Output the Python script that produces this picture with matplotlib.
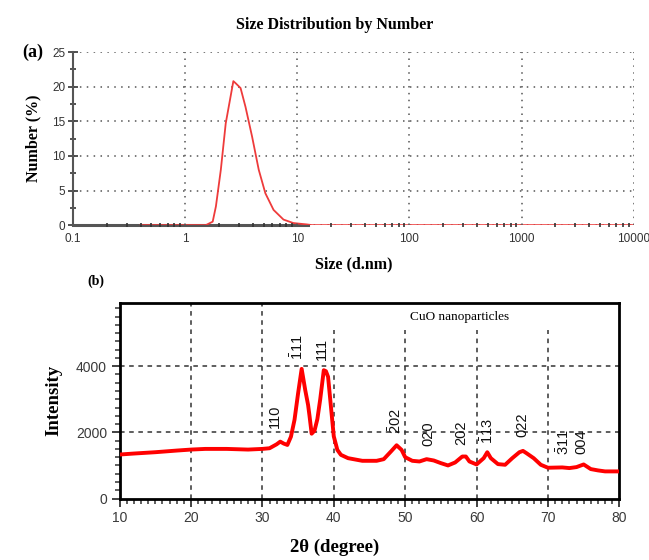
import numpy as np
import matplotlib
matplotlib.use("Agg")
import matplotlib.pyplot as plt
from matplotlib.ticker import FixedLocator, MultipleLocator

SERIF = "Liberation Serif"
SANS = ["Liberation Sans Narrow", "Liberation Sans"]

# --- (a) DLS size distribution by number ---
dls_size = [0.4, 0.6, 1.0, 1.4, 1.53, 1.76, 1.88, 2.08, 2.30, 2.51, 2.69, 2.82, 3.12,
            3.45, 3.95, 4.53, 5.19, 6.14, 7.53, 9.22, 12.1, 13.5, 100, 1000, 10000]
dls_number = [0, 0, 0, 0, 0, 0.5, 2.7, 8.0, 14.7, 18.1, 20.8, 20.5, 19.8,
              17.1, 12.8, 8.0, 4.6, 2.2, 0.8, 0.3, 0.1, 0, 0, 0, 0]
dls_xticks = [0.1, 1, 10, 100, 1000, 10000]
dls_xlabels = ["0.1", "1", "10", "100", "1000", "10000"]

# --- (b) XRD pattern of CuO ---
two_theta = [10, 12, 15, 18, 20, 22, 25, 28, 30, 31, 32, 32.5, 33, 33.5, 34, 34.5, 35,
             35.5, 36, 36.4, 36.6, 36.9, 37.3, 37.7, 38.1, 38.6, 38.9, 39.2, 39.6, 40,
             40.5, 41, 42, 44, 46, 47, 48, 48.8, 49.5, 50, 51, 52, 53, 54, 55, 56, 57,
             58, 58.5, 59, 60, 61, 61.5, 62, 63, 64, 65, 66, 66.5, 67, 68, 69, 70, 72,
             73, 74, 75, 76, 77, 78, 80]
intensity = [1330, 1360, 1400, 1450, 1480, 1500, 1500, 1480, 1500, 1520, 1640, 1720,
             1660, 1620, 1870, 2380, 3180, 3920, 3280, 2830, 2500, 1960, 2050, 2400,
             3000, 3880, 3850, 3680, 2780, 1880, 1470, 1320, 1220, 1140, 1140, 1190,
             1420, 1610, 1470, 1250, 1140, 1120, 1190, 1150, 1070, 1000, 1090, 1270,
             1270, 1120, 1030, 1220, 1400, 1220, 1040, 1020, 1220, 1400, 1440, 1370,
             1220, 1020, 930, 940, 920, 950, 1030, 890, 850, 820, 820]
hkl_labels = ["110", r"$\mathregular{\bar{1}11}$", "111", r"$\mathregular{\bar{2}02}$",
              "020", "202", r"$\mathregular{\bar{1}13}$", "022",
              r"$\mathregular{\bar{3}11}$", "004"]
hkl_pos = [31.8, 34.9, 38.3, 48.6, 53.3, 57.8, 61.5, 66.4, 72.2, 74.7]
hkl_height = [2490, 4580, 4510, 2350, 1975, 1975, 2035, 2225, 1700, 1720]

fig = plt.figure(figsize=(6.49, 5.6), dpi=100)

# ---------------- panel (a) ----------------
ax1 = fig.add_axes([0.1125, 0.598, 0.864, 0.309])
ax1.plot(dls_size, dls_number, color="#ee3b3b", lw=1.3, zorder=3)
ax1.set_xscale("log")
ax1.set_xlim(0.1, 10000)
ax1.set_ylim(0, 25)
ax1.xaxis.set_major_locator(FixedLocator(dls_xticks))
ax1.set_xticklabels(dls_xlabels)
ax1.xaxis.set_minor_locator(FixedLocator(
    [m * d for d in [0.1, 1, 10, 100, 1000] for m in range(2, 10)]))
ax1.xaxis.set_minor_formatter(plt.NullFormatter())
ax1.yaxis.set_major_locator(MultipleLocator(5))
ax1.yaxis.set_minor_locator(MultipleLocator(2.5))
for s in ["top", "right"]:
    ax1.spines[s].set_visible(False)
ax1.spines["left"].set_color("#555555")
ax1.spines["left"].set_linewidth(1.5)
ax1.spines["bottom"].set_color("#555555")
ax1.spines["bottom"].set_linewidth(2.2)
ax1.spines["bottom"].set_bounds(0.1, 12.5)
ax1.xaxis.set_zorder(4)
ax1.grid(True, which="major", ls=(0, (1, 3.5)), color="#555555", lw=1.1)
ax1.tick_params(axis="both", which="both", direction="inout", color="#333333")
ax1.tick_params(axis="x", which="major", length=0, pad=6)
ax1.tick_params(axis="x", which="minor", length=3, width=1.2)
ax1.tick_params(axis="y", which="major", length=7, width=1.2, pad=2)
ax1.tick_params(axis="y", which="minor", length=5, width=1.2)
for lab in ax1.get_xticklabels() + ax1.get_yticklabels():
    lab.set_family(SANS)
    lab.set_fontsize(8.5)
    lab.set_color("#333333")
ax1.set_xlabel("Size (d.nm)", family=SERIF, weight="bold", fontsize=11.5, labelpad=8)
ax1.set_ylabel("Number (%)", family=SERIF, weight="bold", fontsize=11.5, labelpad=8)
fig.text(0.516, 0.955, "Size Distribution by Number", family=SERIF, weight="bold",
         fontsize=11.5, ha="center", va="center")
fig.text(0.051, 0.907, "(a)", family=SERIF, weight="bold", fontsize=13,
         ha="center", va="center")

# ---------------- panel (b) ----------------
ax2 = fig.add_axes([0.1843, 0.1098, 0.770, 0.3496])
ax2.plot(two_theta, intensity, color="red", lw=2.8, zorder=3)
ax2.set_xlim(10, 80)
ax2.set_ylim(0, 5920)
ax2.xaxis.set_major_locator(MultipleLocator(10))
ax2.xaxis.set_minor_locator(MultipleLocator(1))
ax2.yaxis.set_major_locator(FixedLocator([0, 2000, 4000]))
ax2.yaxis.set_minor_locator(MultipleLocator(250))
for s in ax2.spines.values():
    s.set_linewidth(2)
    s.set_color("black")
ax2.tick_params(axis="both", which="major", direction="out", length=6, width=1.3,
                color="#333333", pad=3)
ax2.tick_params(axis="both", which="minor", direction="out", length=3.5, width=1.1,
                color="#333333")
for lab in ax2.get_xticklabels() + ax2.get_yticklabels():
    lab.set_family(SANS)
    lab.set_fontsize(10)
    lab.set_color("#3a3a3a")

grid_kw = dict(colors="#333333", linestyles=(0, (3, 3)), lw=1.1, zorder=1)
ax2.vlines([20, 30], 0, 5920, **grid_kw)
ax2.vlines([40, 50, 60, 70], 0, 5100, **grid_kw)
ax2.hlines([2000, 4000], 10, 80, **grid_kw)

for lab, x, y in zip(hkl_labels, hkl_pos, hkl_height):
    ax2.text(x, y, lab, rotation=90, ha="center", va="center",
             family=SANS, fontsize=10.5, color="#111111", zorder=4)

ax2.text(0.68, 0.925, "CuO nanoparticles", transform=ax2.transAxes, family=SERIF,
         fontsize=9.5, ha="center", va="center")
ax2.set_ylabel("Intensity", family=SERIF, weight="bold", fontsize=13.5, labelpad=10)
fig.text(0.516, 0.022, "2θ (degree)", family=SERIF, weight="bold", fontsize=13.5,
         ha="center", va="center")
fig.text(0.148, 0.497, "(b)", family=SERIF, weight="bold", fontsize=10,
         ha="center", va="center")

fig.savefig("out.png", dpi=100)
